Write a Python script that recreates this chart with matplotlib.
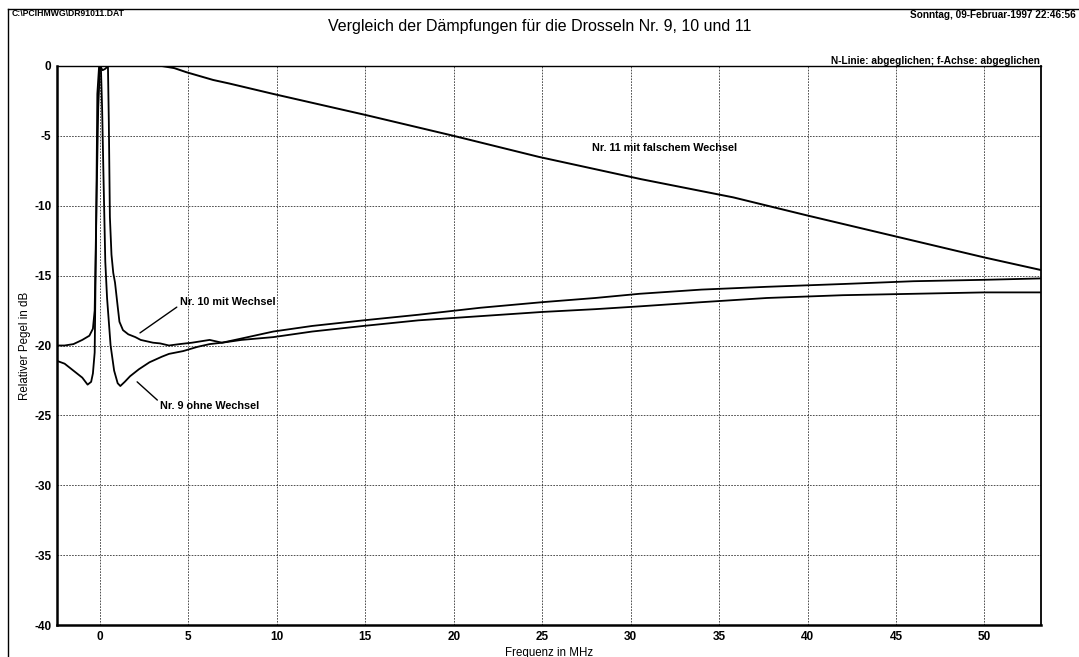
import numpy as np
import matplotlib.pyplot as plt

plt.rcParams['font.family'] = ['Liberation Sans', 'DejaVu Sans']
plt.rcParams['axes.unicode_minus'] = False

f_nr9 = [-2.43, -2.0, -1.7, -1.3, -1.0, -0.7, -0.5, -0.4, -0.3, -0.22, -0.15,
         -0.05, 0.05, 0.12, 0.2, 0.3, 0.4, 0.6, 0.8, 1.0, 1.15, 1.4, 1.7, 2.2,
         2.8, 3.5, 3.9, 4.7, 5.5, 6.2, 6.9, 8.0, 9.8, 12.0, 14.9, 18.0, 21.5,
         25.0, 28.0, 30.5, 34.0, 37.7, 42.0, 46.0, 50.0, 53.2]
p_nr9 = [-21.1, -21.3, -21.6, -22.0, -22.3, -22.8, -22.6, -22.0, -20.5, -12.0,
         -2.0, 0.0, 0.0, -3.0, -8.0, -14.0, -16.6, -20.0, -21.8, -22.7, -22.9,
         -22.6, -22.2, -21.7, -21.2, -20.8, -20.6, -20.4, -20.1, -19.9, -19.8,
         -19.5, -19.0, -18.6, -18.2, -17.8, -17.3, -16.9, -16.6, -16.3, -16.0,
         -15.8, -15.6, -15.4, -15.3, -15.2]

f_nr10 = [-2.43, -2.0, -1.5, -1.0, -0.6, -0.4, -0.3, -0.2, -0.1, 0.0, 0.15,
          0.3, 0.45, 0.5, 0.56, 0.65, 0.75, 0.85, 1.0, 1.1, 1.3, 1.6, 2.0,
          2.3, 3.0, 3.4, 3.9, 4.5, 5.2, 6.2, 6.9, 8.0, 9.8, 12.0, 14.9, 18.0,
          21.5, 25.0, 28.0, 30.5, 34.0, 37.7, 42.0, 46.0, 50.0, 53.2]
p_nr10 = [-20.0, -20.0, -19.9, -19.6, -19.3, -18.8, -17.5, -10.0, -3.0, 0.0,
          -0.3, -0.2, 0.0, -4.0, -10.8, -13.5, -14.8, -15.5, -17.2, -18.3,
          -18.9, -19.2, -19.4, -19.6, -19.8, -19.85, -20.0, -19.9, -19.8,
          -19.6, -19.8, -19.6, -19.4, -19.0, -18.6, -18.2, -17.9, -17.6,
          -17.4, -17.2, -16.9, -16.6, -16.4, -16.3, -16.2, -16.2]

f_nr11 = [-2.43, 3.5, 4.2, 4.9, 6.4, 7.3, 9.8, 15.0, 20.0, 24.8, 30.6, 35.8,
          40.0, 45.0, 50.0, 53.2]
p_nr11 = [0.0, 0.0, -0.15, -0.45, -1.0, -1.25, -2.0, -3.5, -5.0, -6.5, -8.1,
          -9.4, -10.7, -12.2, -13.7, -14.6]

x_ticks = [0, 5, 10, 15, 20, 25, 30, 35, 40, 45, 50]
y_ticks = [0, -5, -10, -15, -20, -25, -30, -35, -40]

fig = plt.figure(figsize=(10.79, 6.57), dpi=100)
ax = fig.add_axes([57/1079, 1 - 625/657, (1041 - 57)/1079, (625 - 66)/657])

ax.plot(f_nr11, p_nr11, color="black", linewidth=1.4)
ax.plot(f_nr10, p_nr10, color="black", linewidth=1.3)
ax.plot(f_nr9, p_nr9, color="black", linewidth=1.3)

ax.set_xlim(-2.43, 53.2)
ax.set_ylim(-40, 0)
ax.set_xticks(x_ticks)
ax.set_yticks(y_ticks)
ax.tick_params(length=0, labelsize=8.5, pad=4)
for lab in ax.get_xticklabels() + ax.get_yticklabels():
    lab.set_fontweight("bold")
ax.grid(True, color="black", linestyle=(0, (2, 1.5)), linewidth=0.6, alpha=0.8)
for s in ["left", "bottom"]:
    ax.spines[s].set_linewidth(1.8)
ax.spines["right"].set_linewidth(1.3)
ax.spines["top"].set_linewidth(1.0)

ax.set_xlabel("Frequenz in MHz", fontsize=8.3, labelpad=3)
ax.set_ylabel("Relativer Pegel in dB", fontsize=8.3, labelpad=2.5)

# Beschriftungen der Kurven
ax.annotate("Nr. 10 mit Wechsel", xy=(2.26, -19.1), xytext=(4.5, -16.9),
            fontsize=7.8, fontweight="bold", va="center", ha="left",
            arrowprops=dict(arrowstyle="-", color="black", linewidth=1.0,
                            shrinkA=0, shrinkB=0, relpos=(0, 0.2)))
ax.annotate("Nr. 9 ohne Wechsel", xy=(2.1, -22.6), xytext=(3.4, -24.3),
            fontsize=7.8, fontweight="bold", va="center", ha="left",
            arrowprops=dict(arrowstyle="-", color="black", linewidth=1.0,
                            shrinkA=0, shrinkB=0, relpos=(0, 0.8)))
ax.text(31.9, -5.9, "Nr. 11 mit falschem Wechsel", fontsize=7.8,
        fontweight="bold", ha="center", va="center")

# Kopfzeilen
fig.text(12/1079, 1 - 14/657, "C:\\PCIHMWG\\DR91011.DAT", fontsize=6.2,
         ha="left", va="center", fontweight="bold")
fig.text(910/1079, 1 - 15/657, "Sonntag, 09-Februar-1997 22:46:56",
         fontsize=7.2, ha="left", va="center", fontweight="bold")
fig.text(540/1079, 1 - 27/657, "Vergleich der Dämpfungen für die Drosseln Nr. 9, 10 und 11",
         fontsize=11.5, ha="center", va="center")
fig.text(1040/1079, 1 - 61/657, "N-Linie: abgeglichen; f-Achse: abgeglichen",
         fontsize=7.3, ha="right", va="center", fontweight="bold")

# Rahmen der Seite
fig.add_artist(plt.Line2D([8/1079, 8/1079], [0, 1 - 9/657], color="black", linewidth=1.0))
fig.add_artist(plt.Line2D([8/1079, 1], [1 - 9/657, 1 - 9/657], color="black", linewidth=1.0))

fig.savefig("out.png", dpi=100)
